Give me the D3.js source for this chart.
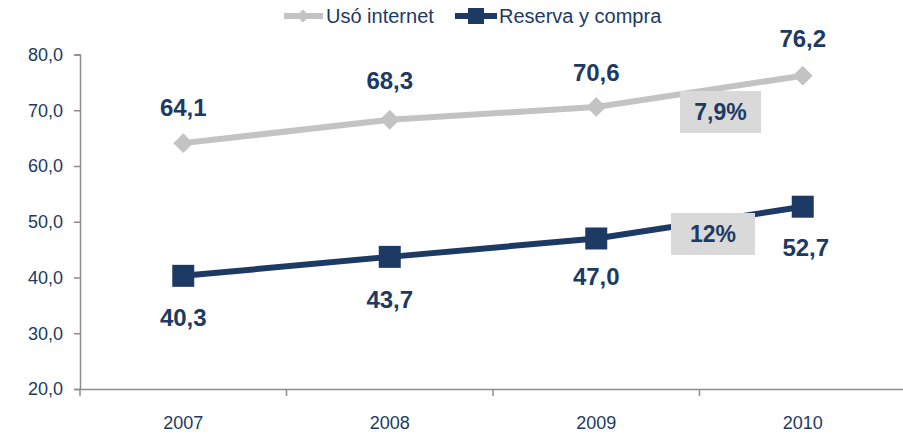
<!DOCTYPE html>
<html>
<head>
<meta charset="utf-8">
<script src="https://cdn.jsdelivr.net/npm/d3@7"></script>
<style>
  body { margin: 0; background: #fff; }
  svg { font-family: "Liberation Sans", sans-serif; }
</style>
</head>
<body>
<div id="chart"></div>
<script>
// chart data
var years = ["2007", "2008", "2009", "2010"];
var internetValues = [64.1, 68.3, 70.6, 76.2];
var compraValues = [40.3, 43.7, 47.0, 52.7];
var yTicks = [20, 30, 40, 50, 60, 70, 80];
var seriesNames = ["Usó internet", "Reserva y compra"];
var growthLabels = ["7,9%", "12%"];

var svgWidth = 903, svgHeight = 437;
var margin = { top: 54.5, right: 0, bottom: 48, left: 80 };
var width = svgWidth - margin.left - margin.right;
var height = svgHeight - margin.top - margin.bottom;

var navy = "#1c3a63";
var gray = "#c3c3c3";

var svg = d3.select("#chart").append("svg")
  .attr("width", svgWidth)
  .attr("height", svgHeight);

var chartGroup = svg.append("g")
  .attr("transform", `translate(${margin.left}, ${margin.top})`);

var xScale = d3.scaleBand()
  .domain(years)
  .range([0, 826]);

var yScale = d3.scaleLinear()
  .domain([20, 80])
  .range([height, 0]);

var fmt = v => d3.format(".1f")(v).replace(".", ",");

// y axis
var yAxis = chartGroup.append("g")
  .call(d3.axisLeft(yScale).tickValues(yTicks).tickSize(6).tickFormat(fmt));
yAxis.select(".domain").attr("stroke", "#8c8c8c").attr("stroke-width", 1.5);
yAxis.selectAll(".tick line").attr("stroke", "#8c8c8c").attr("stroke-width", 1.5);
yAxis.selectAll(".tick text")
  .attr("x", -17)
  .attr("fill", navy)
  .style("font-size", "18px");

// x axis
var xAxis = chartGroup.append("g")
  .attr("transform", `translate(0, ${height})`)
  .call(d3.axisBottom(xScale).tickSize(0));
xAxis.select(".domain").attr("stroke", "#8c8c8c").attr("stroke-width", 1.5);
xAxis.selectAll(".tick text")
  .attr("y", 27)
  .attr("fill", navy)
  .style("font-size", "18px");
// tick marks at category boundaries
xAxis.selectAll(".bound")
  .data(years)
  .enter()
  .append("line")
  .attr("x1", d => xScale(d))
  .attr("x2", d => xScale(d))
  .attr("y1", 0)
  .attr("y2", 7)
  .attr("stroke", "#8c8c8c")
  .attr("stroke-width", 1.5);
chartGroup.append("line")
  .attr("x1", 826).attr("x2", svgWidth)
  .attr("y1", height).attr("y2", height)
  .attr("stroke", "#8c8c8c").attr("stroke-width", 1.5);

var cx = d => xScale(d) + xScale.bandwidth() / 2;

var line = d3.line()
  .x((d, i) => cx(years[i]))
  .y(d => yScale(d));

// growth label boxes
var boxes = [
  { x: 680, y: 91, w: 81, h: 42, label: growthLabels[0] },
  { x: 671, y: 213, w: 84, h: 42, label: growthLabels[1] }
];

// lines
chartGroup.append("path")
  .datum(internetValues)
  .attr("d", line)
  .attr("fill", "none")
  .attr("stroke", gray)
  .attr("stroke-width", 6);

chartGroup.append("path")
  .datum(compraValues)
  .attr("d", line)
  .attr("fill", "none")
  .attr("stroke", navy)
  .attr("stroke-width", 6);

var boxG = svg.selectAll(".box")
  .data(boxes)
  .enter()
  .append("g");
boxG.append("rect")
  .attr("x", d => d.x).attr("y", d => d.y)
  .attr("width", d => d.w).attr("height", d => d.h)
  .attr("fill", "#d9d9d9");
boxG.append("text")
  .attr("x", d => d.x + d.w / 2)
  .attr("y", d => d.y + d.h / 2 + 8)
  .attr("text-anchor", "middle")
  .attr("fill", navy)
  .style("font-size", "23px")
  .style("font-weight", "bold")
  .text(d => d.label);

// markers
var diamond = d3.symbol().type(d3.symbolDiamond2).size(250);
chartGroup.selectAll(".dia")
  .data(internetValues)
  .enter()
  .append("path")
  .attr("d", diamond)
  .attr("transform", (d, i) => `translate(${cx(years[i])}, ${yScale(d)})`)
  .attr("fill", gray);

chartGroup.selectAll(".sq")
  .data(compraValues)
  .enter()
  .append("rect")
  .attr("x", (d, i) => cx(years[i]) - 11)
  .attr("y", d => yScale(d) - 11)
  .attr("width", 22)
  .attr("height", 22)
  .attr("fill", navy);

// data labels
var upperOffsets = [-27, -31, -26, -29];
chartGroup.selectAll(".lblTop")
  .data(internetValues)
  .enter()
  .append("text")
  .attr("x", (d, i) => cx(years[i]))
  .attr("y", (d, i) => yScale(d) + upperOffsets[i])
  .attr("text-anchor", "middle")
  .attr("fill", navy)
  .style("font-size", "24px")
  .style("font-weight", "bold")
  .text(d => fmt(d));

var lowerOffsets = [50, 51, 47, 49];
chartGroup.selectAll(".lblBot")
  .data(compraValues)
  .enter()
  .append("text")
  .attr("x", (d, i) => cx(years[i]) + (i === 3 ? 3 : 0))
  .attr("y", (d, i) => yScale(d) + lowerOffsets[i])
  .attr("text-anchor", "middle")
  .attr("fill", navy)
  .style("font-size", "24px")
  .style("font-weight", "bold")
  .text(d => fmt(d));

// legend
var legend = svg.append("g").attr("transform", "translate(0, 16)");
legend.append("line")
  .attr("x1", 284).attr("x2", 323).attr("y1", 0).attr("y2", 0)
  .attr("stroke", gray).attr("stroke-width", 6);
legend.append("path")
  .attr("d", d3.symbol().type(d3.symbolDiamond2).size(110))
  .attr("transform", "translate(303, 0)")
  .attr("fill", gray);
legend.append("text")
  .attr("x", 326).attr("y", 7)
  .attr("fill", navy)
  .style("font-size", "20px")
  .text(seriesNames[0]);
legend.append("line")
  .attr("x1", 455).attr("x2", 497).attr("y1", 0).attr("y2", 0)
  .attr("stroke", navy).attr("stroke-width", 6);
legend.append("rect")
  .attr("x", 468).attr("y", -8).attr("width", 16).attr("height", 16)
  .attr("fill", navy);
legend.append("text")
  .attr("x", 499).attr("y", 7)
  .attr("fill", navy)
  .style("font-size", "20px")
  .text(seriesNames[1]);
</script>
</body>
</html>
